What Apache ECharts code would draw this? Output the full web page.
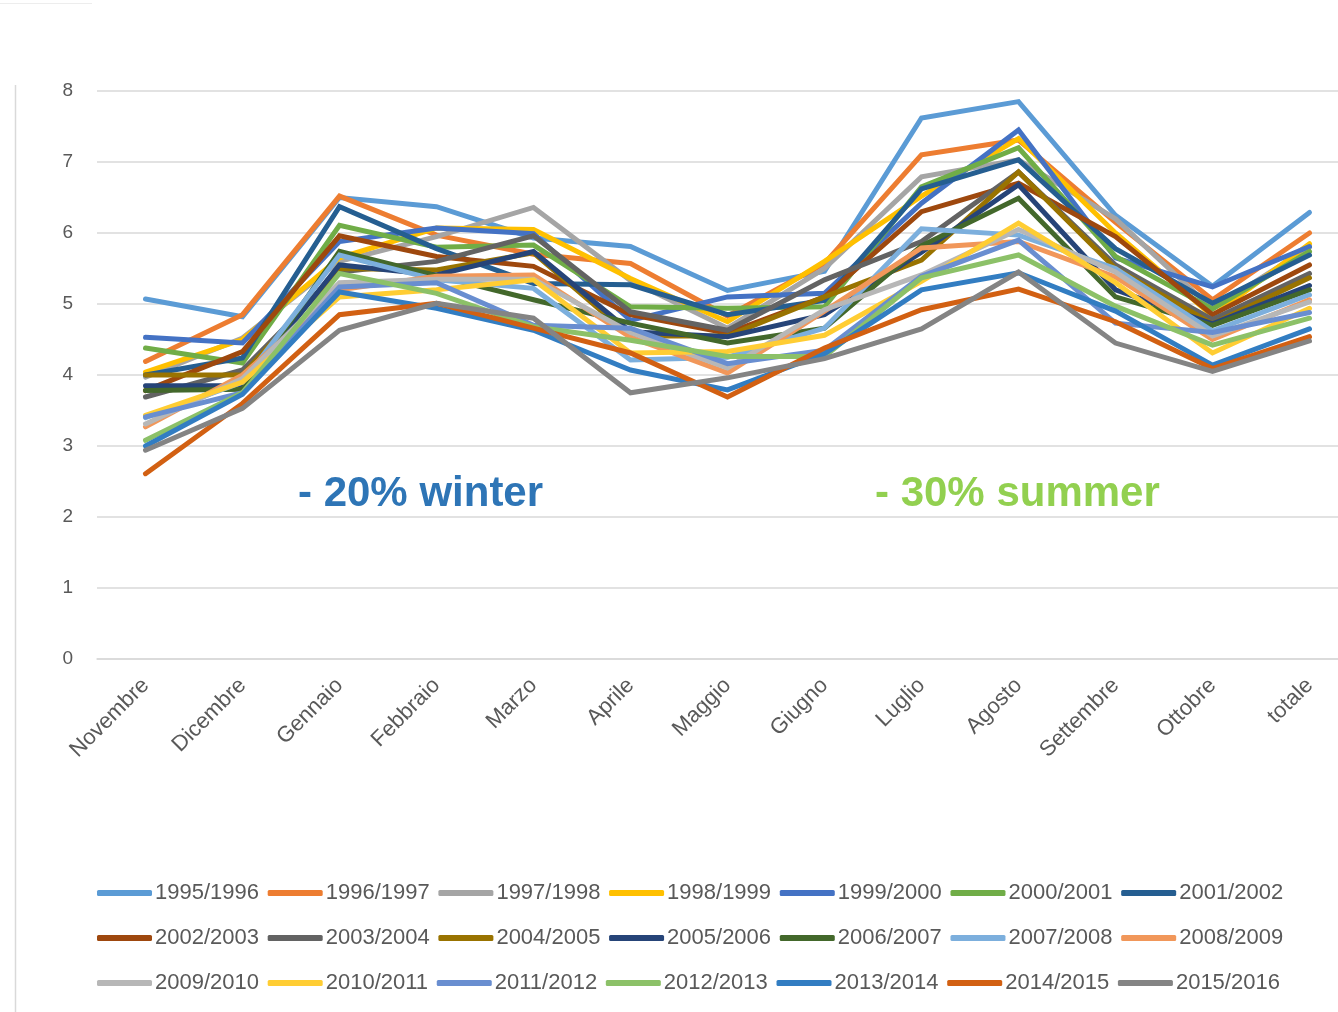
<!DOCTYPE html>
<html>
<head>
<meta charset="utf-8">
<script src="https://cdn.jsdelivr.net/npm/echarts@6/dist/echarts.min.js"></script>
<style>
html,body{margin:0;padding:0;background:#fff;overflow:hidden;}
#c{width:1358px;height:1012px;}
</style>
</head>
<body>
<div id="c"></div>
<script>
const categories = ['Novembre','Dicembre','Gennaio','Febbraio','Marzo','Aprile','Maggio','Giugno','Luglio','Agosto','Settembre','Ottobre','totale'];
const yTicks = [0,1,2,3,4,5,6,7,8];

const seriesNames = ['1995/1996','1996/1997','1997/1998','1998/1999','1999/2000','2000/2001','2001/2002',
  '2002/2003','2003/2004','2004/2005','2005/2006','2006/2007','2007/2008','2008/2009',
  '2009/2010','2010/2011','2011/2012','2012/2013','2013/2014','2014/2015','2015/2016'];

const s1995 = [5.07,4.82,6.50,6.37,5.93,5.81,5.19,5.46,7.62,7.85,6.25,5.25,6.29];
const s1996 = [4.19,4.85,6.52,5.97,5.70,5.57,4.83,5.57,7.10,7.31,6.15,5.06,6.00];
const s1997 = [3.97,4.52,5.60,5.95,6.36,5.33,4.66,5.50,6.79,7.03,6.20,4.93,5.80];
const s1998 = [4.04,4.50,5.65,6.07,6.05,5.36,4.75,5.60,6.52,7.33,6.00,4.83,5.85];
const s1999 = [4.53,4.45,5.88,6.07,5.99,4.77,5.10,5.15,6.42,7.45,5.65,5.24,5.81];
const s2000 = [4.38,4.17,6.11,5.80,5.83,4.96,4.94,4.96,6.65,7.20,5.67,4.93,5.74];
const s2001 = [4.00,4.24,6.37,5.78,5.29,5.27,4.85,5.05,6.62,7.03,5.78,5.01,5.69];
const s2002 = [3.78,4.33,5.96,5.67,5.53,4.85,4.59,5.10,6.30,6.70,5.95,4.85,5.55];
const s2003 = [3.69,4.07,5.45,5.60,5.96,4.89,4.63,5.34,5.88,6.86,5.55,4.78,5.43];
const s2004 = [4.00,4.00,5.50,5.48,5.72,4.55,4.55,5.10,5.62,6.86,5.50,4.72,5.37];
const s2005 = [3.85,3.85,5.55,5.41,5.74,4.61,4.54,4.85,5.73,6.68,5.20,4.72,5.26];
const s2006 = [3.78,3.80,5.74,5.40,5.06,4.73,4.45,4.66,5.82,6.49,5.10,4.70,5.20];
const s2007 = [3.40,3.90,5.69,5.34,5.22,4.21,4.25,4.66,6.06,5.97,5.50,4.62,5.13];
const s2008 = [3.27,4.00,5.20,5.39,5.41,4.53,4.03,4.90,5.79,5.88,5.38,4.50,5.06];
const s2009 = [3.31,3.95,5.30,5.35,5.35,4.60,4.10,4.92,5.41,6.05,5.45,4.55,5.03];
const s2010 = [3.43,3.90,5.10,5.20,5.34,4.31,4.33,4.56,5.32,6.14,5.30,4.31,4.94];
const s2011 = [3.41,3.75,5.24,5.30,4.70,4.66,4.16,4.35,5.39,5.90,4.73,4.60,4.88];
const s2012 = [3.08,3.75,5.43,5.15,4.68,4.49,4.26,4.26,5.37,5.69,4.97,4.42,4.80];
const s2013 = [3.00,3.73,5.17,4.94,4.63,4.07,3.79,4.30,5.20,5.44,4.90,4.14,4.65];
const s2014 = [2.61,3.60,4.85,5.01,4.66,4.31,3.69,4.38,4.92,5.21,4.75,4.09,4.54];
const s2015 = [2.94,3.53,4.63,5.01,4.80,3.75,3.96,4.23,4.65,5.45,4.45,4.05,4.48];

const seriesValues = [s1995,s1996,s1997,s1998,s1999,s2000,s2001,s2002,s2003,s2004,s2005,s2006,s2007,
  s2008,s2009,s2010,s2011,s2012,s2013,s2014,s2015];

const colors = ['#5B9BD5','#ED7D31','#A5A5A5','#FFC000','#4472C4','#70AD47','#255E91',
  '#9E480E','#636363','#997300','#264478','#43682B','#7CAFDD','#F1975A',
  '#B7B7B7','#FFCD33','#698ED0','#8CC168','#327DC2','#D26012','#848484'];

const annWinter = '- 20% winter';
const annSummer = '- 30% summer';

const FONT = '"Liberation Sans", Arial, sans-serif';
const GRAY = '#595959';

const chart = echarts.init(document.getElementById('c'), null, {renderer:'canvas'});

const series = seriesNames.map((n,i)=>({
  name:n, type:'line', data:seriesValues[i], symbol:'none',
  lineStyle:{width:5, color:colors[i], cap:'round', join:'miter'},
  itemStyle:{color:colors[i]}, z:2, animation:false
}));

function legendRow(names, top){
  return {
    data:names, left:97, top:top, orient:'horizontal', padding:0,
    itemWidth:55, itemHeight:6, itemGap:8.7, icon:'roundRect',
    textStyle:{fontFamily:FONT, fontSize:22, color:GRAY, padding:[0,0,0,-2]},
    selectedMode:false
  };
}

chart.setOption({
  animation:false,
  color:colors,
  grid:{left:97, top:91, right:0, height:568, containLabel:false},
  xAxis:{
    type:'category', data:categories, boundaryGap:true,
    axisLine:{show:true, lineStyle:{color:'#D9D9D9', width:1.5}},
    axisTick:{show:false},
    axisLabel:{rotate:45, margin:23, fontFamily:FONT, fontSize:22, color:GRAY, interval:0}
  },
  yAxis:{
    type:'value', min:yTicks[0], max:yTicks[yTicks.length-1], interval:1,
    axisLine:{show:false}, axisTick:{show:false},
    axisLabel:{margin:24, fontFamily:FONT, fontSize:19, color:GRAY},
    splitLine:{lineStyle:{color:'#D9D9D9', width:1.5}}
  },
  legend:[
    legendRow(seriesNames.slice(0,7), 882),
    legendRow(seriesNames.slice(7,14), 927),
    legendRow(seriesNames.slice(14,21), 972)
  ],
  graphic:[
    {type:'line', shape:{x1:15.5,y1:85,x2:15.5,y2:1012}, style:{stroke:'#D9D9D9', lineWidth:1.5}},
    {type:'line', shape:{x1:0,y1:3.5,x2:92,y2:3.5}, style:{stroke:'#EDEDED', lineWidth:1}},
    {type:'text', left:298, top:473, style:{text:annWinter, fill:'#2E75B6', font:'bold 42px '+FONT}},
    {type:'text', left:875, top:473, style:{text:annSummer, fill:'#92D050', font:'bold 42px '+FONT}}
  ],
  series:series
});
</script>
</body>
</html>
